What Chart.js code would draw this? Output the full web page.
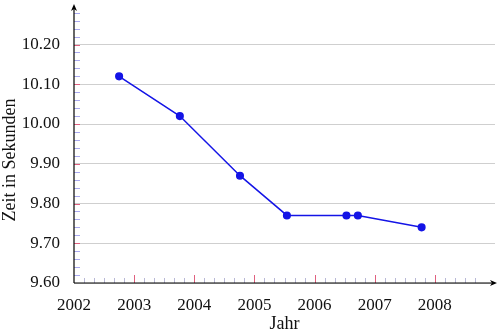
<!DOCTYPE html>
<html>
<head>
<meta charset="utf-8">
<script src="https://cdn.jsdelivr.net/npm/chart.js@4"></script>
<style>
  html, body { margin: 0; padding: 0; background: #fff; }
  #wrap { width: 500px; height: 333px; }
</style>
</head>
<body>
<div id="wrap"><canvas id="c" width="500" height="333"></canvas></div>
<script>
// Zeitpunkte (Jahr als Dezimalzahl) und gelaufene Zeiten in Sekunden
const years = [2002.75, 2003.76, 2004.76, 2005.54, 2006.53, 2006.72, 2007.78];
const times = [10.12, 10.02, 9.87, 9.77, 9.77, 9.77, 9.74];
const yearTicks = [2002, 2003, 2004, 2005, 2006, 2007, 2008];
const timeTicks = [9.60, 9.70, 9.80, 9.90, 10.00, 10.10, 10.20];
const yTitle = 'Zeit in Sekunden';

const serif = '"Liberation Serif", "DejaVu Serif", serif';

// Achsen mit Pfeilspitzen, Teilstriche und senkrechte Achsenbeschriftung
const axisDecor = {
  id: 'axisDecor',
  afterDraw(chart) {
    const ctx = chart.ctx;
    const xs = chart.scales.x, ys = chart.scales.y;
    const x0 = xs.getPixelForValue(2002), y0 = ys.getPixelForValue(9.6);
    ctx.save();
    ctx.lineWidth = 1;
    for (let k = 1; k <= 34; k++) {
      const v = 9.6 + k * 0.02;
      const major = k % 5 === 0;
      const p = Math.round(ys.getPixelForValue(v)) + 0.5;
      ctx.strokeStyle = major ? '#e0607f' : '#a9a9f0';
      ctx.beginPath(); ctx.moveTo(x0, p); ctx.lineTo(x0 + 6, p); ctx.stroke();
    }
    for (let k = 1; k <= 40; k++) {
      const v = 2002 + k / 6;
      const major = k % 6 === 0;
      const p = Math.round(xs.getPixelForValue(v)) + 0.5;
      ctx.strokeStyle = major ? '#e0607f' : '#b8b8d6';
      ctx.beginPath(); ctx.moveTo(p, y0); ctx.lineTo(p, y0 - (major ? 8 : 5)); ctx.stroke();
    }
    ctx.strokeStyle = '#000';
    ctx.fillStyle = '#000';
    ctx.lineWidth = 1.2;
    const xEnd = 497, yEnd = 4;
    ctx.beginPath(); ctx.moveTo(x0, y0); ctx.lineTo(xEnd - 4, y0); ctx.stroke();
    ctx.beginPath(); ctx.moveTo(x0, y0); ctx.lineTo(x0, yEnd + 4); ctx.stroke();
    ctx.beginPath();
    ctx.moveTo(xEnd, y0); ctx.lineTo(xEnd - 7, y0 - 3); ctx.lineTo(xEnd - 5, y0); ctx.lineTo(xEnd - 7, y0 + 3);
    ctx.closePath(); ctx.fill();
    ctx.beginPath();
    ctx.moveTo(x0, yEnd); ctx.lineTo(x0 - 3, yEnd + 7); ctx.lineTo(x0, yEnd + 5); ctx.lineTo(x0 + 3, yEnd + 7);
    ctx.closePath(); ctx.fill();

    // Titel der y-Achse, um 90° gedreht
    ctx.fillStyle = '#111';
    ctx.font = '18px ' + serif;
    ctx.textAlign = 'center';
    ctx.textBaseline = 'middle';
    ctx.translate(10, 160);
    ctx.rotate(-Math.PI / 2);
    ctx.fillText(yTitle, 0, 0);
    ctx.restore();
  }
};

new Chart(document.getElementById('c'), {
  type: 'line',
  data: {
    datasets: [{
      data: years.map((y, i) => ({ x: y, y: times[i] })),
      borderColor: '#1414e6',
      backgroundColor: '#1414e6',
      borderWidth: 1.5,
      pointRadius: 3.3,
      pointHoverRadius: 3.3,
      tension: 0
    }]
  },
  options: {
    responsive: false,
    animation: false,
    layout: { padding: { top: 3, right: 5, left: 0, bottom: 0 } },
    plugins: { legend: { display: false }, tooltip: { enabled: false } },
    scales: {
      x: {
        type: 'linear',
        min: 2002, max: 2009,
        afterBuildTicks(s) { s.ticks = yearTicks.map(v => ({ value: v })); },
        afterFit(s) { s.height = 50; s.paddingLeft = 0; s.paddingRight = 0; },
        grid: { display: false, drawTicks: false },
        border: { display: false },
        ticks: {
          padding: 12,
          color: '#111',
          font: { family: serif, size: 17 },
          callback: v => String(v)
        },
        title: {
          display: true, text: 'Jahr', color: '#111',
          font: { family: serif, size: 18, lineHeight: 1 }, padding: { top: 0, bottom: 0 }
        }
      },
      y: {
        type: 'linear',
        min: 9.6, max: 10.3,
        afterBuildTicks(s) { s.ticks = timeTicks.map(v => ({ value: v })); },
        afterFit(s) { s.width = 74; s.paddingTop = 0; s.paddingBottom = 0; },
        grid: { color: '#cfcfcf', lineWidth: 1, drawTicks: false },
        border: { display: false },
        ticks: {
          padding: 14,
          color: '#111',
          font: { family: serif, size: 17 },
          callback: v => v.toFixed(2)
        },
        title: { display: false }
      }
    }
  },
  plugins: [axisDecor]
});
</script>
</body>
</html>
